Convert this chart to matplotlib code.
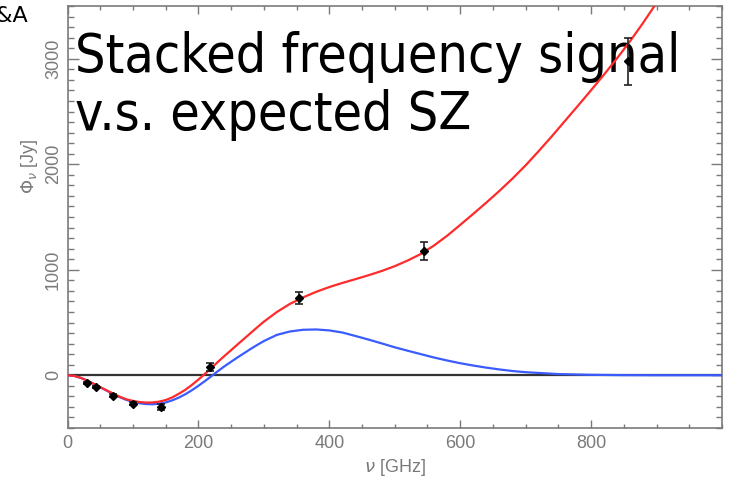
import numpy as np
import matplotlib
matplotlib.use('Agg')
import matplotlib.pyplot as plt
from matplotlib.ticker import MultipleLocator

# stacked fluxes per Planck channel
nu_obs = [30, 44, 70, 100, 143, 217, 353, 545, 857]
phi_obs = [-72, -112, -192, -268, -300, 78, 735, 1180, 2975]
phi_err = [12, 12, 15, 15, 28, 38, 55, 85, 222]

# thermal SZ model (GHz, Jy)
nu_sz = [0, 10, 20, 30, 40, 50, 60, 70, 80, 90, 100, 110, 120, 130, 140, 150,
         160, 170, 180, 190, 200, 210, 220, 230, 240, 250, 260, 270, 280, 290,
         300, 320, 340, 360, 380, 400, 420, 440, 460, 480, 500, 520, 540, 560,
         580, 600, 620, 640, 660, 680, 700, 750, 800, 850, 900, 1000]
phi_sz = [0, -6, -24, -50, -82, -114, -146, -178, -208, -234, -252, -265,
          -273, -275, -270, -258, -238, -212, -180, -142, -100, -55, -8, 40,
          86, 128, 170, 210, 250, 288, 324, 383, 415, 431, 434, 425, 405, 372,
          338, 302, 265, 232, 200, 168, 140, 114, 92, 72, 55, 40, 29, 11, 4,
          1, 0, 0]

# SZ + dust model (GHz, Jy)
nu_tot = [0, 10, 20, 30, 40, 50, 60, 70, 80, 90, 100, 110, 120, 130, 140, 150,
          160, 170, 180, 190, 200, 210, 220, 230, 240, 250, 260, 270, 280, 290,
          300, 320, 340, 360, 380, 400, 420, 440, 460, 480, 500, 520, 540, 560,
          580, 600, 620, 640, 660, 680, 700, 720, 740, 760, 780, 800, 820, 840,
          860, 880, 900, 920]
phi_tot = [0, -6, -24, -50, -81, -113, -144, -175, -204, -228, -243, -254,
           -259, -258, -250, -235, -210, -176, -138, -92, -41, 13, 69, 128,
           184, 238, 293, 347, 401, 455, 508, 600, 677, 738, 791, 836, 875,
           911, 948, 988, 1034, 1088, 1150, 1230, 1322, 1425, 1530, 1637,
           1748, 1865, 1990, 2125, 2265, 2410, 2555, 2702, 2852, 3007, 3170,
           3345, 3530, 3725]

grey = '#7a7a7a'

fig = plt.figure(figsize=(7.32, 4.87), dpi=100)
ax = fig.add_axes([67.5 / 732, 1 - 428 / 487, (722 - 67.5) / 732, 422 / 487])

ax.axhline(0, color='#333333', lw=1.6, zorder=2)
ax.plot(nu_sz, phi_sz, color='#3a5cff', lw=1.6, zorder=3)
ax.plot(nu_tot, phi_tot, color='#ff2a2a', lw=1.6, zorder=4)
ax.errorbar(nu_obs, phi_obs, yerr=phi_err, fmt='D', ms=4, color='black',
            ecolor='#222222', elinewidth=1.2, capsize=3, capthick=1.2, zorder=5)

ax.set_xlim(0, 1000)
ax.set_ylim(-500, 3500)
ax.set_xticks([0, 200, 400, 600, 800])
ax.xaxis.set_minor_locator(MultipleLocator(50))
ax.set_yticks([0, 1000, 2000, 3000])
ax.yaxis.set_minor_locator(MultipleLocator(100))

for s in ax.spines.values():
    s.set_color(grey)
    s.set_linewidth(1.2)

ax.tick_params(which='both', direction='in', top=True, right=True,
               color=grey, width=1.0, labelcolor=grey, labelsize=13)
ax.tick_params(axis='x', which='major', length=6, pad=5)
ax.tick_params(axis='x', which='minor', length=3)
ax.tick_params(axis='y', which='major', length=8, pad=4)
ax.tick_params(axis='y', which='minor', length=4.5)
for lab in ax.get_xticklabels() + ax.get_yticklabels():
    lab.set_family('Liberation Sans')
plt.setp(ax.get_yticklabels(), rotation=90, va='center')

ax.set_xlabel(r'$\nu$ [GHz]', color=grey, fontsize=13, family='Liberation Sans')
ax.set_ylabel(r'$\Phi_\nu$ [Jy]', color=grey, fontsize=13, family='Liberation Sans')
ax.xaxis.set_label_coords(0.5, -(467 - 428) / 422, transform=ax.transAxes)
ax.yaxis.set_label_coords(-(67.5 - 30) / 654.5, (428 - 166) / 422)
ax.xaxis.label.set_va('center')
ax.yaxis.label.set_va('center')

ax.text(75 / 732, 1 - 72 / 487, 'Stacked frequency signal',
        transform=fig.transFigure, fontsize=38.5, family='DejaVu Sans',
        fontstretch='condensed', color='black', va='baseline', ha='left',
        zorder=1)
ax.text(75 / 732, 1 - 130 / 487, 'v.s. expected SZ',
        transform=fig.transFigure, fontsize=38.5, family='DejaVu Sans',
        fontstretch='condensed', color='black', va='baseline', ha='left',
        zorder=1)

fig.text(29 / 732, 1 - 22 / 487, 'A&A', fontsize=16, family='DejaVu Sans',
         ha='right', va='baseline', color='black')

fig.savefig('out.png', dpi=100)
